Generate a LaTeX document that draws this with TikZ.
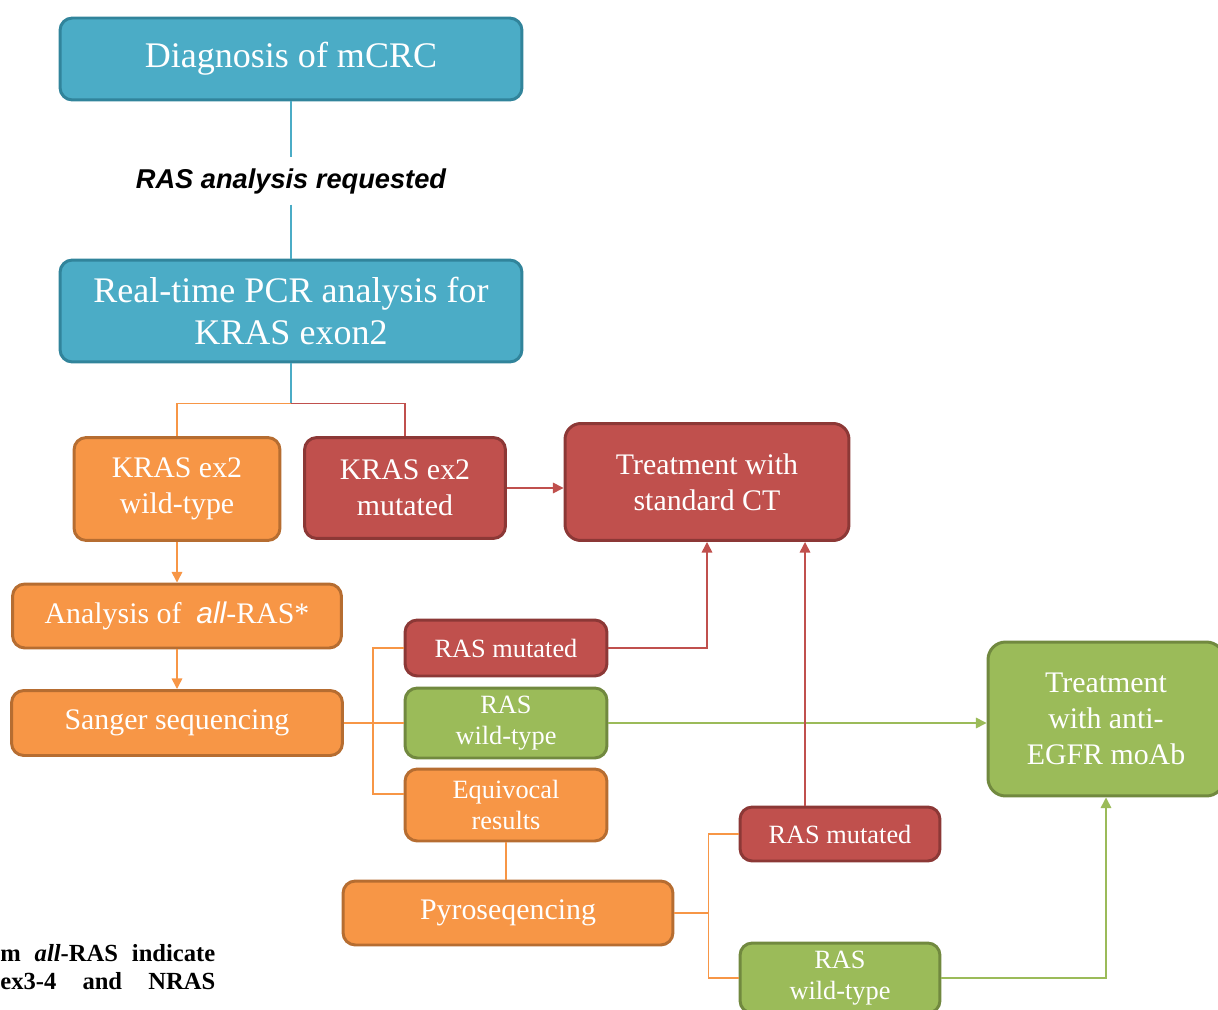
\documentclass[tikz,border=0pt]{standalone}
\usepackage{fontspec}
\setmainfont{Liberation Serif}
\newfontfamily\reqfont{Liberation Sans}
\usetikzlibrary{arrows.meta,positioning}

\definecolor{tealfill}{HTML}{4BACC6}
\definecolor{tealdraw}{HTML}{31849B}
\definecolor{orangefill}{HTML}{F79646}
\definecolor{orangedraw}{HTML}{B66D31}
\definecolor{redfill}{HTML}{C0504D}
\definecolor{reddraw}{HTML}{8C3836}
\definecolor{greenfill}{HTML}{9BBB59}
\definecolor{greendraw}{HTML}{71893F}

\begin{document}
\begin{tikzpicture}[x=0.02cm, y=-0.02cm,
    >={Triangle[length=6pt,width=6pt]},
    box/.style={rectangle, rounded corners=7pt, line width=1.7pt, text=white, align=center, inner sep=0pt},
    tealbox/.style={box, fill=tealfill, draw=tealdraw, font=\fontsize{20.5}{24}\selectfont},
    orangebox/.style={box, fill=orangefill, draw=orangedraw},
    redbox/.style={box, fill=redfill, draw=reddraw},
    greenbox/.style={box, fill=greenfill, draw=greendraw},
    midfont/.style={font=\fontsize{17}{20.5}\selectfont},
    smallfont/.style={font=\fontsize{15}{18}\selectfont},
    tealline/.style={draw=tealfill, line width=0.85pt},
    orangeline/.style={draw=orangefill, line width=0.85pt},
    redline/.style={draw=redfill, line width=0.85pt},
    greenline/.style={draw=greenfill, line width=0.85pt}]
        \useasboundingbox (0,0) rectangle (1218,1010);

        % Nodes
        \node (diag) [tealbox, minimum width=9.24cm, minimum height=1.64cm] at (291, 59) {Diagnosis of mCRC};
        \node (req) [inner sep=6pt, font=\reqfont\bfseries\itshape\fontsize{15.5}{18}\selectfont] at (291, 181) {RAS analysis requested};
        \node (pcr) [tealbox, minimum width=9.24cm, minimum height=2.04cm] at (291, 311) {Real-time PCR analysis for\\KRAS exon2};
        \node (wt) [orangebox, midfont, minimum width=4.12cm, minimum height=2.06cm] at (177, 489) {KRAS ex2\\wild-type};
        \node (mut) [redbox, midfont, minimum width=4.02cm, minimum height=2.02cm] at (405, 488) {KRAS ex2\\mutated};
        \node (ct) [redbox, midfont, rounded corners=9pt, minimum width=5.68cm, minimum height=2.34cm] at (707, 482) {Treatment with\\standard CT};
        \node (analysis) [orangebox, midfont, minimum width=6.58cm, minimum height=1.28cm] at (177, 616) {Analysis of \ {\reqfont\itshape all}-RAS*};
        \node (sanger) [orangebox, midfont, minimum width=6.62cm, minimum height=1.3cm] at (177, 723) {Sanger sequencing};
        \node (rasmut1) [redbox, smallfont, minimum width=4.04cm, minimum height=1.12cm] at (506, 648) {RAS mutated};
        \node (raswt1) [greenbox, smallfont, minimum width=4.04cm, minimum height=1.4cm] at (506, 723) {RAS\\wild-type};
        \node (equiv) [orangebox, smallfont, minimum width=4.04cm, minimum height=1.44cm] at (506, 805) {Equivocal\\results};
        \node (egfr) [greenbox, midfont, rounded corners=10pt, minimum width=4.72cm, minimum height=3.08cm] at (1106, 719) {Treatment\\with anti-\\EGFR moAb};
        \node (pyro) [orangebox, midfont, minimum width=6.6cm, minimum height=1.28cm] at (508, 913) {Pyroseqencing};
        \node (rasmut2) [redbox, smallfont, minimum width=4.0cm, minimum height=1.08cm] at (840, 834) {RAS mutated};
        \node (raswt2) [greenbox, smallfont, minimum width=4.0cm, minimum height=1.4cm] at (840, 978) {RAS\\wild-type};
        \node (note) [anchor=north west, inner sep=0pt, align=left, font=\bfseries\fontsize{14}{16}\selectfont] at (0, 944)
            {\makebox[4.3cm][s]{m\hfill\textit{all}-RAS\hfill indicate}\\\makebox[4.3cm][s]{ex3-4\hfill and\hfill NRAS}};

        % Edges
        \draw[tealline] (diag) -- (req);
        \draw[tealline] (req) -- (pcr);
        \draw[tealline] (pcr.south) -- ++(0, 40) coordinate (split);
        \draw[orangeline] (split) -| (wt.north);
        \draw[redline] (split) -| (mut.north);
        \draw[redline, ->] (mut) -- (mut -| ct.west);
        \draw[orangeline, ->] (wt) -- (analysis);
        \draw[orangeline, ->] (analysis) -- (sanger);
        \draw[orangeline] (sanger.east) -- ++(29, 0) coordinate (sfork);
        \draw[orangeline] (sfork) |- (rasmut1.west);
        \draw[orangeline] (sfork) |- (raswt1.west);
        \draw[orangeline] (sfork) |- ([yshift=0.22cm]equiv.west);
        \draw[redline, ->] (rasmut1.east) -| (ct.south);
        \draw[greenline, ->] (raswt1.east) -- (raswt1.east -| egfr.west);
        \draw[orangeline] (equiv.south) -- (equiv.south |- pyro.north);
        \draw[orangeline] (pyro.east) -- ++(34, 0) coordinate (pfork);
        \draw[orangeline] (pfork) |- (rasmut2.west);
        \draw[orangeline] (pfork) |- (raswt2.west);
        \draw[redline, ->] ([xshift=-0.7cm]rasmut2.north) -- ([xshift=-0.7cm]rasmut2.north |- ct.south);
        \draw[greenline, ->] (raswt2.east) -| (egfr.south);
    \end{tikzpicture}
\end{document}
